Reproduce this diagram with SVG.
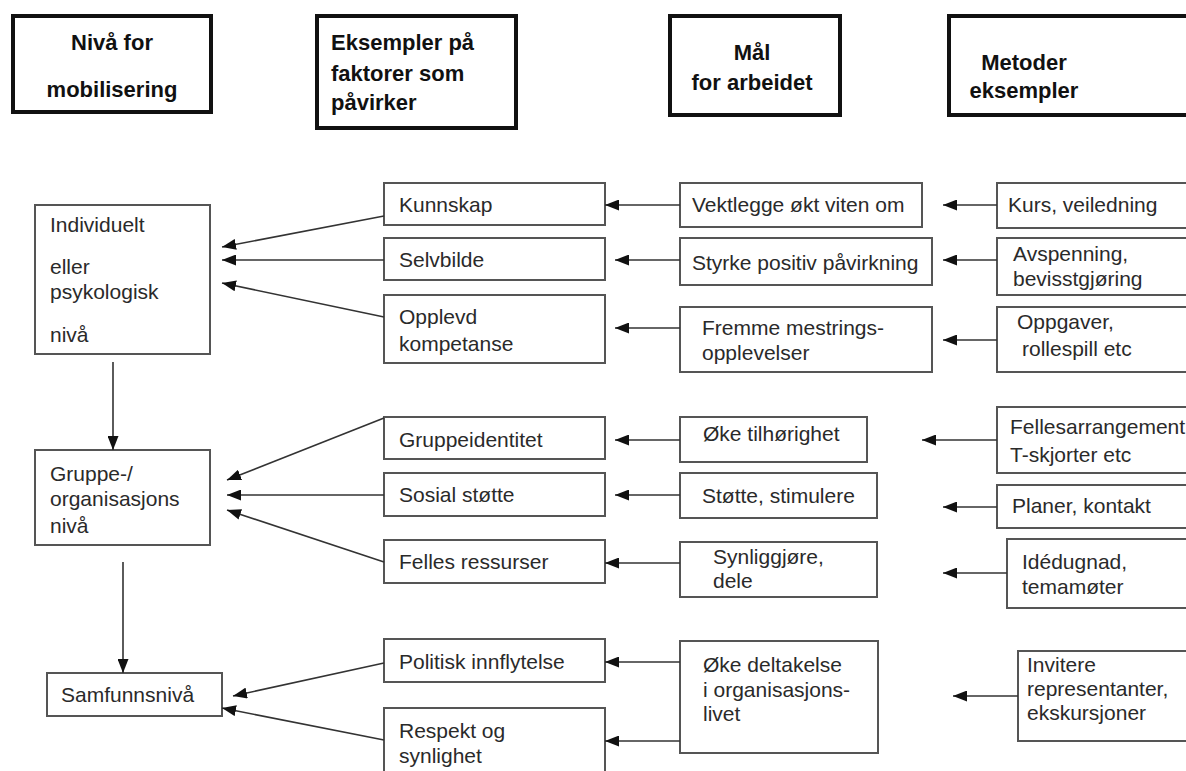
<svg xmlns="http://www.w3.org/2000/svg" width="1186" height="771" viewBox="0 0 1186 771">
<style>
.hdr rect{fill:#fff;stroke:#111;stroke-width:4}
.hdr text{font-family:"Liberation Sans",Arial,sans-serif;font-weight:bold;font-size:22px;fill:#111}
.nd rect{fill:#fff;stroke:#555;stroke-width:2}
.nd text{font-family:"Liberation Sans",Arial,sans-serif;font-size:21px;fill:#2a2a2a}
.c{text-anchor:middle}
#connectors line{stroke:#333;stroke-width:1.6;fill:none;marker-end:url(#ah)}
</style>
<defs>
<marker id="ah" markerUnits="userSpaceOnUse" markerWidth="14" markerHeight="11" refX="14" refY="5.5" orient="auto">
<path d="M0,0 L14,5.5 L0,11 z" fill="#111"/>
</marker>
</defs>
<rect width="1186" height="771" fill="#fff"/>

<g id="h1" class="hdr"><rect x="13" y="16" width="198" height="96"/><text class="c" x="112" y="50">Nivå for</text><text class="c" x="112" y="97">mobilisering</text></g>
<g id="h2" class="hdr"><rect x="317" y="16" width="199" height="112"/><text x="331" y="50">Eksempler på</text><text x="331" y="81">faktorer som</text><text x="331" y="110">påvirker</text></g>
<g id="h3" class="hdr"><rect x="670" y="16" width="170" height="99"/><text class="c" x="752" y="60">Mål</text><text class="c" x="752" y="90">for arbeidet</text></g>
<g id="h4" class="hdr"><rect x="949" y="16" width="260" height="99"/><text class="c" x="1024" y="70">Metoder</text><text class="c" x="1024" y="98">eksempler</text></g>

<g id="individuelt" class="nd"><rect x="35" y="205" width="175" height="149"/><text x="50" y="232">Individuelt</text><text x="50" y="274">eller</text><text x="50" y="299">psykologisk</text><text x="50" y="342">nivå</text></g>
<g id="gruppe" class="nd"><rect x="35" y="450" width="175" height="95"/><text x="50" y="481">Gruppe-/</text><text x="50" y="506">organisasjons</text><text x="50" y="533">nivå</text></g>
<g id="samfunn" class="nd"><rect x="47" y="673" width="175" height="43"/><text x="61" y="702">Samfunnsnivå</text></g>

<g id="kunnskap" class="nd"><rect x="384" y="183" width="221" height="42"/><text x="399" y="212">Kunnskap</text></g>
<g id="selvbilde" class="nd"><rect x="384" y="238" width="221" height="42"/><text x="399" y="267">Selvbilde</text></g>
<g id="opplevd" class="nd"><rect x="384" y="295" width="221" height="68"/><text x="399" y="324">Opplevd</text><text x="399" y="351">kompetanse</text></g>
<g id="gruppeidentitet" class="nd"><rect x="384" y="417" width="221" height="42"/><text x="399" y="447">Gruppeidentitet</text></g>
<g id="sosial" class="nd"><rect x="384" y="473" width="221" height="43"/><text x="399" y="502">Sosial støtte</text></g>
<g id="felles" class="nd"><rect x="384" y="540" width="221" height="43"/><text x="399" y="569">Felles ressurser</text></g>
<g id="politisk" class="nd"><rect x="384" y="639" width="221" height="43"/><text x="399" y="669">Politisk innflytelse</text></g>
<g id="respekt" class="nd"><rect x="384" y="708" width="221" height="72"/><text x="399" y="738">Respekt og</text><text x="399" y="763">synlighet</text></g>

<g id="vektlegge" class="nd"><rect x="680" y="183" width="242" height="44"/><text x="692" y="212">Vektlegge økt viten om</text></g>
<g id="styrke" class="nd"><rect x="680" y="238" width="252" height="47"/><text x="692" y="270">Styrke positiv påvirkning</text></g>
<g id="fremme" class="nd"><rect x="680" y="307" width="252" height="65"/><text x="702" y="335">Fremme mestrings-</text><text x="702" y="360">opplevelser</text></g>
<g id="oke-tilh" class="nd"><rect x="680" y="417" width="187" height="45"/><text x="703" y="441">Øke tilhørighet</text></g>
<g id="stotte" class="nd"><rect x="680" y="473" width="197" height="45"/><text x="702" y="503">Støtte, stimulere</text></g>
<g id="synlig" class="nd"><rect x="680" y="542" width="197" height="55"/><text x="713" y="564">Synliggjøre,</text><text x="713" y="588">dele</text></g>
<g id="oke-delt" class="nd"><rect x="680" y="641" width="198" height="112"/><text x="703" y="672">Øke deltakelse</text><text x="703" y="697">i organisasjons-</text><text x="703" y="721">livet</text></g>

<g id="kurs" class="nd"><rect x="997" y="183" width="220" height="45"/><text x="1008" y="212">Kurs, veiledning</text></g>
<g id="avspenning" class="nd"><rect x="997" y="238" width="220" height="57"/><text x="1013" y="261">Avspenning,</text><text x="1013" y="286">bevisstgjøring</text></g>
<g id="oppgaver" class="nd"><rect x="997" y="307" width="220" height="65"/><text x="1017" y="329">Oppgaver,</text><text x="1022" y="356">rollespill etc</text></g>
<g id="fellesarr" class="nd"><rect x="997" y="407" width="220" height="66"/><text x="1010" y="434">Fellesarrangement</text><text x="1010" y="462">T-skjorter etc</text></g>
<g id="planer" class="nd"><rect x="997" y="485" width="220" height="43"/><text x="1012" y="513">Planer, kontakt</text></g>
<g id="idedugnad" class="nd"><rect x="1007" y="539" width="220" height="69"/><text x="1022" y="569">Idédugnad,</text><text x="1022" y="594">temamøter</text></g>
<g id="invitere" class="nd"><rect x="1018" y="651" width="220" height="90"/><text x="1027" y="672">Invitere</text><text x="1027" y="696">representanter,</text><text x="1027" y="720">ekskursjoner</text></g>

<g id="connectors">
<line x1="113" y1="362" x2="113" y2="450"/>
<line x1="123" y1="562" x2="123" y2="673"/>
<line x1="384" y1="216" x2="222" y2="247"/>
<line x1="384" y1="260" x2="222" y2="260"/>
<line x1="384" y1="317" x2="222" y2="283"/>
<line x1="384" y1="418" x2="227" y2="480"/>
<line x1="384" y1="495" x2="227" y2="495"/>
<line x1="384" y1="562" x2="227" y2="510"/>
<line x1="384" y1="663" x2="233" y2="696"/>
<line x1="384" y1="740" x2="222" y2="708"/>
<line x1="680" y1="205" x2="605" y2="205"/>
<line x1="680" y1="260" x2="615" y2="260"/>
<line x1="680" y1="328" x2="615" y2="328"/>
<line x1="680" y1="440" x2="615" y2="440"/>
<line x1="680" y1="495" x2="615" y2="495"/>
<line x1="680" y1="563" x2="605" y2="563"/>
<line x1="680" y1="662" x2="605" y2="662"/>
<line x1="680" y1="741" x2="605" y2="741"/>
<line x1="997" y1="205" x2="943" y2="205"/>
<line x1="997" y1="260" x2="943" y2="260"/>
<line x1="997" y1="340" x2="943" y2="340"/>
<line x1="997" y1="440" x2="922" y2="440"/>
<line x1="997" y1="507" x2="943" y2="507"/>
<line x1="1007" y1="573" x2="943" y2="573"/>
<line x1="1018" y1="696" x2="953" y2="696"/>
</g>
</svg>
